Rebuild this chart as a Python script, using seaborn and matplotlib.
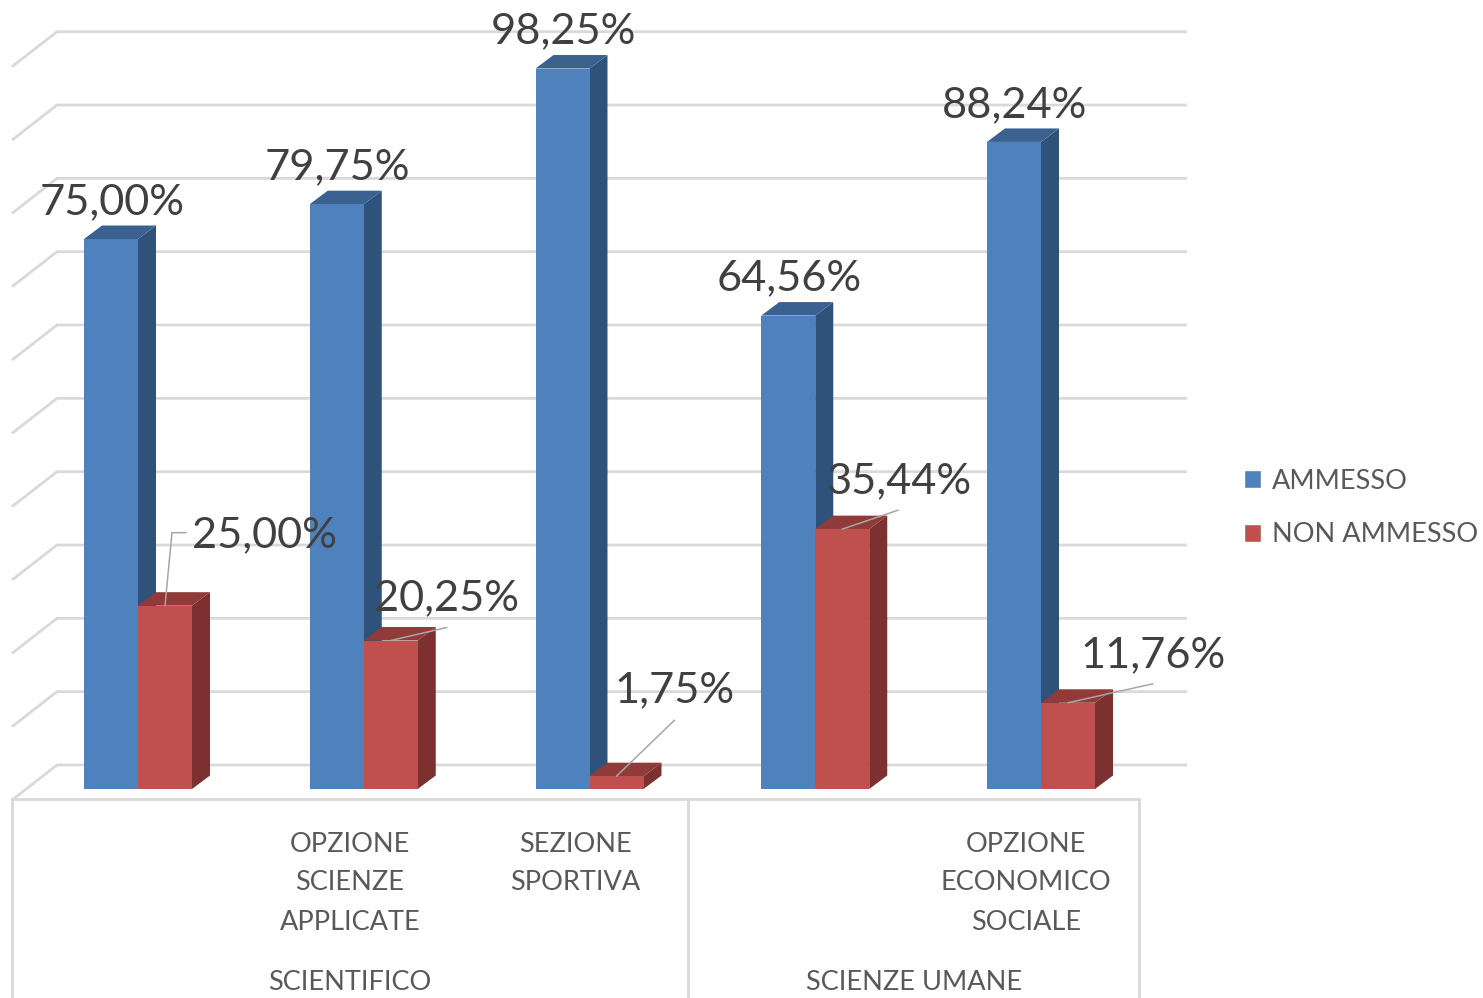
import matplotlib
matplotlib.use("Agg")
import matplotlib.pyplot as plt
import pandas as pd
import seaborn as sns
from matplotlib.patches import Patch, Polygon

# Dati

indirizzi = ["", "OPZIONE\nSCIENZE\nAPPLICATE", "SEZIONE\nSPORTIVA", "", "OPZIONE\nECONOMICO\nSOCIALE"]
gruppi = ["SCIENTIFICO", "SCIENZE UMANE"]
serie = ["AMMESSO", "NON AMMESSO"]
ammesso = [75.00, 79.75, 98.25, 64.56, 88.24]
non_ammesso = [25.00, 20.25, 1.75, 35.44, 11.76]
griglia = [0, 10, 20, 30, 40, 50, 60, 70, 80, 90, 100]

# Colori

blu, blu_lato, blu_top = "#4F81BD", "#2F527A", "#3B6190"
rosso, rosso_lato, rosso_top = "#C0504D", "#7C3130", "#903B39"
col_griglia = "#D9D9D9"
col_testo = "#595959"
col_valori = "#404040"

# Scale: pixel per categoria, pixel per punto percentuale

W, H = 1483, 998
PX_CAT = 225.75
PX_PCT = 7.333
X0_PX, Y0_PX = 138, 789

sns.set_theme(style="white")
plt.rcParams["font.family"] = ["Lato", "DejaVu Sans"]

fig = plt.figure(figsize=(W / 100, H / 100), dpi=100)
ax = fig.add_axes([0, 0, 1, 1])

df = pd.DataFrame({
    "pos": list(range(5)) * 2,
    "valore": ammesso + non_ammesso,
    "esito": [serie[0]] * 5 + [serie[1]] * 5,
})
sns.barplot(data=df, x="pos", y="valore", hue="esito", palette=[blu, rosso], saturation=1,
            width=108 / PX_CAT, gap=0, errorbar=None, legend=False, linewidth=0, ax=ax)

ax.set_xlim(-X0_PX / PX_CAT, (W - X0_PX) / PX_CAT)
ax.set_ylim(-(H - Y0_PX) / PX_PCT, Y0_PX / PX_PCT)
ax.axis("off")


def dx(px):
    return px / PX_CAT


def dy(px):
    return px / PX_PCT


def fx(px):
    return (px - X0_PX) / PX_CAT


def fy(px):
    return (Y0_PX - px) / PX_PCT


# Griglia sulla parete di fondo e sul lato sinistro

for v in griglia:
    y = v + dy(24)
    ax.plot([fx(12), fx(57), fx(1187)], [y - dy(35), y, y], color=col_griglia, lw=2, zorder=1,
            solid_joinstyle="miter", solid_capstyle="butt")

# Pavimento e separatori dell'asse

ax.plot([fx(12), fx(1139)], [fy(799), fy(799)], color=col_griglia, lw=2, zorder=1, solid_capstyle="projecting")
for xp in [12, 688, 1139]:
    ax.plot([fx(xp), fx(xp)], [fy(799), fy(998)], color=col_griglia, lw=2, zorder=1)

# Facce laterali e superiori delle barre

prof_x, prof_y = dx(18), dy(13.5)
for cont, lato, top, z in [(ax.containers[0], blu_lato, blu_top, 3), (ax.containers[1], rosso_lato, rosso_top, 4)]:
    for bar in cont:
        x0 = bar.get_x()
        x1 = x0 + bar.get_width()
        h = bar.get_height()
        bar.set_zorder(z + 0.5)
        ax.add_patch(Polygon([(x1, 0), (x1 + prof_x, prof_y), (x1 + prof_x, h + prof_y), (x1, h)],
                             facecolor=lato, edgecolor="none", zorder=z))
        ax.add_patch(Polygon([(x0, h), (x0 + prof_x, h + prof_y), (x1 + prof_x, h + prof_y), (x1, h)],
                             facecolor=top, edgecolor="none", zorder=z))

# Etichette dei valori

FS_VAL = 31.2
for bar, v in zip(ax.containers[0], ammesso):
    ax.text(bar.get_x() + bar.get_width() / 2 + dx(1), v + dy(37), f"{v:.2f}%".replace(".", ","),
            ha="center", va="center", fontsize=FS_VAL, color=col_valori, zorder=7)

# Etichette rosse con linea guida (scarto in pixel dal centro della barra)

guide = [[(7, 73), (21, 73)], [(56, 13)], [(58, 56)], [(56, 19)], [(85, 19)]]
scarto_testo = [(99, 70), (56, 42), (58, 86), (56, 48), (85, 48)]
for bar, v, g, s in zip(ax.containers[1], non_ammesso, guide, scarto_testo):
    xc = bar.get_x() + bar.get_width() / 2
    xs = [xc] + [xc + dx(p[0]) for p in g]
    ys = [v] + [v + dy(p[1]) for p in g]
    ax.plot(xs, ys, color="#A6A6A6", lw=1.1, zorder=6, solid_joinstyle="miter")
    ax.text(xc + dx(s[0]), v + dy(s[1]), f"{v:.2f}%".replace(".", ","),
            ha="center", va="center", fontsize=FS_VAL, color=col_valori, zorder=7)

# Etichette delle categorie

FS_ASSE = 19.5
for i, nome in enumerate(indirizzi):
    for j, riga in enumerate(nome.split("\n")):
        if riga:
            ax.text(fx(124.5) + i * 225.4 / PX_CAT, fy(844 + 39 * j), riga, ha="center", va="center",
                    fontsize=FS_ASSE, color=col_testo)
ax.text(fx(350), fy(983), gruppi[0], ha="center", va="center", fontsize=FS_ASSE, color=col_testo)
ax.text(fx(914), fy(983), gruppi[1], ha="center", va="center", fontsize=FS_ASSE, color=col_testo)

# Legenda

maniglie = [Patch(facecolor=blu, label=serie[0]), Patch(facecolor=rosso, label=serie[1])]
ax.legend(handles=maniglie, loc="center left", bbox_to_anchor=(1233 / W, 1 - 508 / H), frameon=False,
          fontsize=FS_ASSE, labelcolor=col_testo, handlelength=0.65, handleheight=0.65,
          handletextpad=0.4, labelspacing=1.05, borderpad=0.4, borderaxespad=0)

fig.savefig("out.png", dpi=100, facecolor="white")
